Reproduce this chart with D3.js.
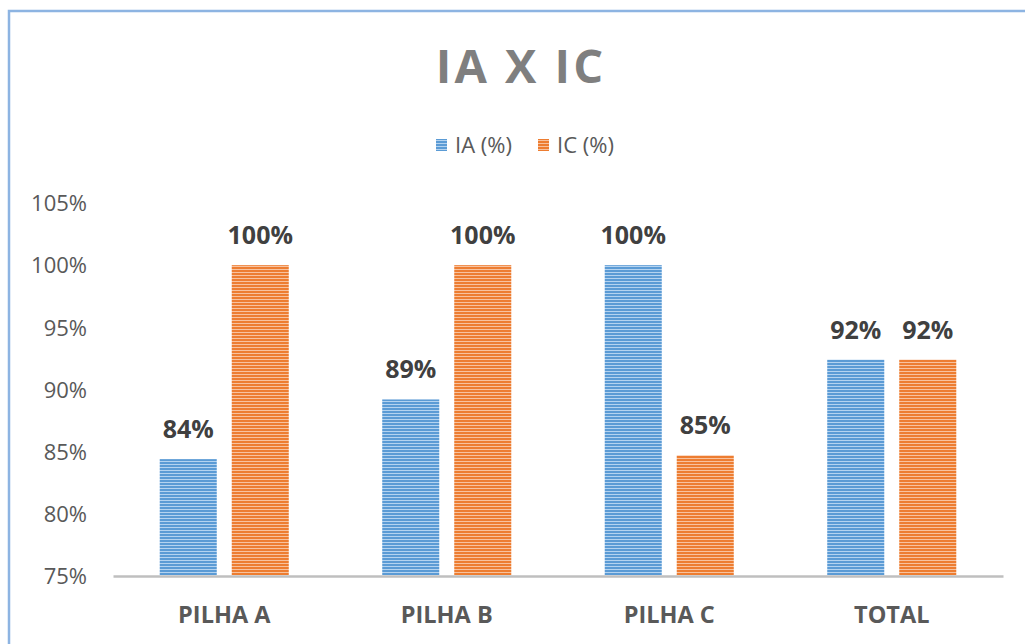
<!DOCTYPE html>
<html>
<head>
<meta charset="utf-8">
<script src="https://cdn.jsdelivr.net/npm/d3@7"></script>
<style>
  html, body { margin: 0; padding: 0; background: #fff; }
  svg { display: block; }
</style>
</head>
<body>
<svg id="chart" width="1025" height="644"></svg>
<script>
const categories = ["PILHA A", "PILHA B", "PILHA C", "TOTAL"];
const seriesNames = ["IA (%)", "IC (%)"];
const iaValues = [84.4, 89.2, 100, 92.4];
const icValues = [100, 100, 84.7, 92.4];
const yTicks = [75, 80, 85, 90, 95, 100, 105];
const titleText = "IA X IC";

const colors = [
  { base: "#5b9bd5", light: "#b4d3f0" },
  { base: "#ed7d31", light: "#f8c29e" }
];

const W = 1025, H = 644;
const svg = d3.select("#chart");
const font = "'Open Sans', 'Liberation Sans', sans-serif";

// patterns
const defs = svg.append("defs");
colors.forEach((c, i) => {
  const p = defs.append("pattern")
    .attr("id", "pat" + i)
    .attr("patternUnits", "userSpaceOnUse")
    .attr("width", 8).attr("height", 3);
  p.append("rect").attr("width", 8).attr("height", 3).attr("fill", c.base);
  p.append("rect").attr("y", 2).attr("width", 8).attr("height", 1).attr("fill", c.light);
});

// border
svg.append("rect")
  .attr("x", 9).attr("y", 11)
  .attr("width", W + 20).attr("height", H + 20)
  .attr("fill", "none")
  .attr("stroke", "#8db4e2").attr("stroke-width", 2.5);

const plotLeft = 113, plotRight = 1003, plotTop = 203, plotBottom = 576;

const y = d3.scaleLinear().domain([75, 105]).range([plotBottom, plotTop]);
const x = d3.scaleBand().domain(categories).range([plotLeft, plotRight]).paddingInner(0).paddingOuter(0);
const xSub = d3.scaleBand().domain(seriesNames).range([0, x.bandwidth()])
  .paddingInner(0.208).paddingOuter(0.649);

// title
svg.append("text")
  .attr("x", 521).attr("y", 83)
  .attr("text-anchor", "middle")
  .attr("font-family", font).attr("font-weight", "bold")
  .attr("font-size", 47).attr("letter-spacing", 3)
  .attr("fill", "#7f7f7f")
  .text(titleText);

// legend
const legend = svg.append("g");
const legendItems = [{ x: 436, name: seriesNames[0], c: 0 }, { x: 538, name: seriesNames[1], c: 1 }];
legendItems.forEach(it => {
  legend.append("rect").attr("x", it.x).attr("y", 139).attr("width", 11).attr("height", 12)
    .attr("fill", "url(#pat" + it.c + ")");
  legend.append("text").attr("x", it.x + 19).attr("y", 153)
    .attr("font-family", font).attr("font-size", 22).attr("fill", "#595959")
    .text(it.name);
});

// y axis (labels only)
const yAxis = d3.axisLeft(y).tickValues(yTicks).tickSize(0).tickPadding(0)
  .tickFormat(d => d + "%");
const yg = svg.append("g").attr("transform", "translate(87,0)").call(yAxis);
yg.select(".domain").remove();
yg.selectAll("text")
  .attr("font-family", font).attr("font-size", 22).attr("fill", "#595959")
  .attr("dy", "0.35em");

// x axis
const xAxis = d3.axisBottom(x).tickSize(0).tickPadding(0);
const xg = svg.append("g").attr("transform", `translate(0,${plotBottom})`).call(xAxis);
xg.select(".domain").attr("stroke", "#bfbfbf").attr("stroke-width", 2.5);
xg.selectAll("text")
  .attr("font-family", font).attr("font-weight", "bold").attr("font-size", 23.5)
  .attr("fill", "#595959").attr("y", 47).attr("dy", 0);

// bars
const data = categories.map((c, i) => ({ cat: c, vals: [iaValues[i], icValues[i]] }));
const groups = svg.append("g").selectAll("g").data(data).join("g")
  .attr("transform", d => `translate(${x(d.cat)},0)`);

groups.selectAll("rect").data(d => d.vals.map((v, j) => ({ v, j, name: seriesNames[j] })))
  .join("rect")
  .attr("x", d => xSub(d.name))
  .attr("y", d => y(d.v))
  .attr("width", xSub.bandwidth())
  .attr("height", d => plotBottom - 1 - y(d.v))
  .attr("fill", d => "url(#pat" + d.j + ")");

groups.selectAll("text.lbl").data(d => d.vals.map((v, j) => ({ v, j, name: seriesNames[j] })))
  .join("text").attr("class", "lbl")
  .attr("x", d => xSub(d.name) + xSub.bandwidth() / 2)
  .attr("y", d => y(d.v) - 21)
  .attr("text-anchor", "middle")
  .attr("font-family", font).attr("font-weight", "bold").attr("font-size", 25)
  .attr("fill", "#404040")
  .text(d => Math.round(d.v) + "%");
</script>
</body>
</html>
